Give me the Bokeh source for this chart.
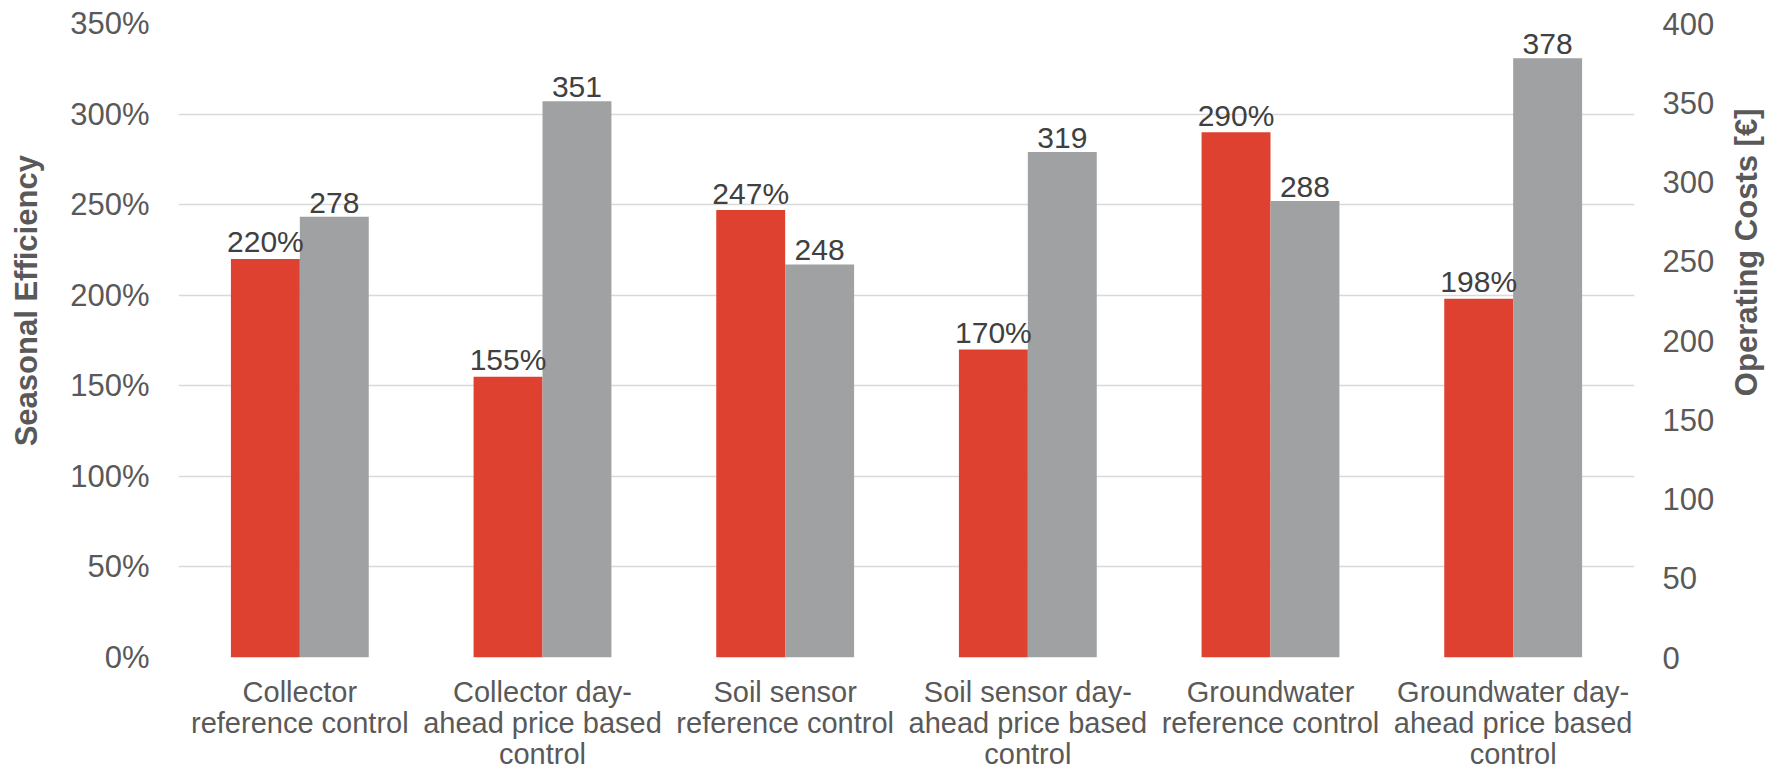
import math
from bokeh.plotting import figure
from bokeh.layouts import row
from bokeh.models import (Range1d, LinearAxis, FixedTicker, PrintfTickFormatter,
                          ColumnDataSource, FactorRange)
from bokeh.transform import dodge
from bokeh.core.properties import value
from bokeh.embed import file_html
from bokeh.resources import INLINE

# ---- data ----
categories = [
    "Collector\nreference control",
    "Collector day-\nahead price based\ncontrol",
    "Soil sensor\nreference control",
    "Soil sensor day-\nahead price based\ncontrol",
    "Groundwater\nreference control",
    "Groundwater day-\nahead price based\ncontrol",
]
seasonal_efficiency = [220, 155, 247, 170, 290, 198]   # percent
operating_costs = [278, 351, 248, 319, 288, 378]        # EUR
efficiency_ticks = [0, 50, 100, 150, 200, 250, 300, 350]
cost_ticks = [0, 50, 100, 150, 200, 250, 300, 350, 400]
left_title = "Seasonal Efficiency"
right_title = "Operating Costs [€]"

RED = "#DE412F"
GRAY = "#A0A1A3"
AXIS_TXT = "#595959"
LBL_TXT = "#404040"
FONT = "Liberation Sans"

H = 773
SIDE_W = 56
MAIN_W = 1776 - 2 * SIDE_W

src = ColumnDataSource(dict(
    cat=categories,
    eff=seasonal_efficiency,
    cost=operating_costs,
    eff_lbl=[f"{v}%" for v in seasonal_efficiency],
    cost_lbl=[str(v) for v in operating_costs],
))

p = figure(x_range=FactorRange(*categories), y_range=Range1d(0, 350),
           width=MAIN_W, height=H, output_backend="svg", toolbar_location=None,
           min_border_left=178 - SIDE_W, min_border_right=1776 - SIDE_W - 1634,
           min_border_top=23, min_border_bottom=116)
p.outline_line_color = None
p.background_fill_color = "white"
p.border_fill_color = "white"
p.extra_y_ranges = {"cost": Range1d(0, 400)}

right_axis = LinearAxis(y_range_name="cost", ticker=FixedTicker(ticks=cost_ticks))
p.add_layout(right_axis, "right")

left_axis = p.yaxis[0]
left_axis.ticker = FixedTicker(ticks=efficiency_ticks)
left_axis.formatter = PrintfTickFormatter(format="%d%%")

for ax in [left_axis, right_axis, p.xaxis[0]]:
    ax.axis_line_color = None
    ax.major_tick_line_color = None
    ax.minor_tick_line_color = None
    ax.major_tick_out = 0
    ax.major_tick_in = 0
    ax.major_label_text_color = AXIS_TXT
    ax.major_label_text_font = FONT

left_axis.major_label_text_font_size = "31px"
right_axis.major_label_text_font_size = "31px"
left_axis.major_label_standoff = 29
right_axis.major_label_standoff = 28
p.xaxis[0].major_label_text_font_size = "29px"
p.xaxis[0].major_label_text_line_height = 0.97
p.xaxis[0].major_label_standoff = 18

p.xgrid.grid_line_color = None
p.ygrid.grid_line_color = "#D9D9D9"
p.ygrid.grid_line_width = 1.5

BW = 0.284
OFF = 0.142
p.vbar(x=dodge("cat", -OFF, range=p.x_range), top="eff", width=BW, source=src,
       fill_color=RED, line_color=None)
p.vbar(x=dodge("cat", OFF, range=p.x_range), top="cost", width=BW, source=src,
       fill_color=GRAY, line_color=None, y_range_name="cost")

p.text(x=dodge("cat", -OFF, range=p.x_range), y="eff", text="eff_lbl", source=src,
       text_align="center", text_baseline="alphabetic", y_offset=-17,
       text_font=value(FONT), text_font_size=value("30px"), text_color=LBL_TXT)
p.text(x=dodge("cat", OFF, range=p.x_range), y="cost", text="cost_lbl", source=src,
       text_align="center", text_baseline="alphabetic", y_offset=-14,
       text_font=value(FONT), text_font_size=value("30px"), text_color=LBL_TXT,
       y_range_name="cost")


def title_panel(text, cx, cy_from_top):
    f = figure(width=SIDE_W, height=H, x_range=Range1d(0, SIDE_W),
               y_range=Range1d(0, H), output_backend="svg", toolbar_location=None,
               x_axis_location=None, y_axis_location=None, min_border=0)
    f.outline_line_color = None
    f.grid.grid_line_color = None
    f.background_fill_color = "white"
    f.border_fill_color = "white"
    f.text(x=[cx], y=[H - cy_from_top], text=[text], angle=math.pi / 2,
           text_align="center", text_baseline="middle",
           text_font=value(FONT), text_font_style="bold",
           text_font_size=value("31px"), text_color=AXIS_TXT)
    return f


left_fig = title_panel(left_title, 26, 338)
right_fig = title_panel(right_title, 1746 - (1776 - SIDE_W), 279)

layout = row(left_fig, p, right_fig, spacing=0)
open("out.html", "w").write(file_html(layout, INLINE))
